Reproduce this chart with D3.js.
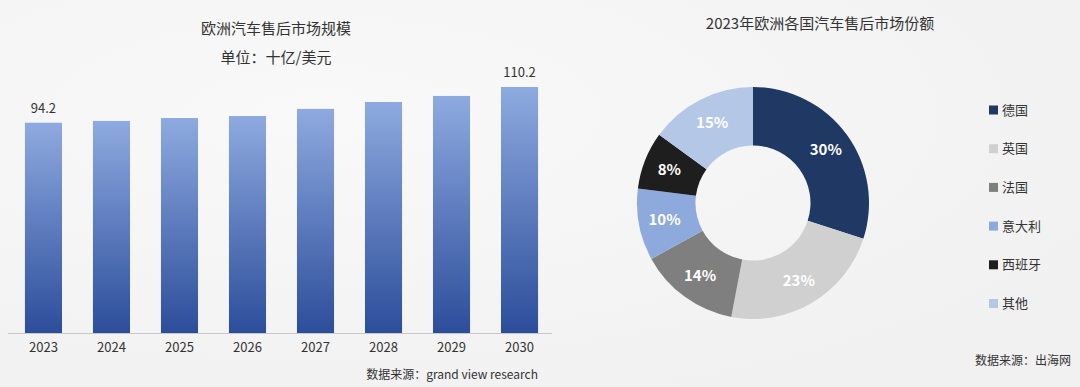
<!DOCTYPE html>
<html lang="zh">
<head>
<meta charset="UTF-8">
<title>欧洲汽车售后市场</title>
<script src="https://d3js.org/d3.v7.min.js"></script>
<style>
  body { margin: 0; background: #f3f3f3; }
  svg { display: block; font-family: "Noto Sans CJK SC", "Noto Sans", sans-serif; }
</style>
</head>
<body>
<svg width="1080" height="387"></svg>
<script>
// 柱状图数据
const years = ["2023", "2024", "2025", "2026", "2027", "2028", "2029", "2030"];
const marketSize = [94.2, 95.0, 96.3, 97.2, 100.4, 103.5, 106.2, 110.2];

// 环形图数据
const countries = ["德国", "英国", "法国", "意大利", "西班牙", "其他"];
const shares = [30, 23, 14, 10, 8, 15];
const shareColors = ["#203864", "#d0d0d0", "#7f7f7f", "#8eaadc", "#1e1e1e", "#b4c7e7"];

const svg = d3.select("svg");

// 背景
const defs = svg.append("defs");
const bg = defs.append("radialGradient").attr("id", "bgGlow")
  .attr("cx", "0.3").attr("cy", "0.3").attr("r", "0.8");
bg.append("stop").attr("offset", "0%").attr("stop-color", "#f9f9f9");
bg.append("stop").attr("offset", "100%").attr("stop-color", "#f1f1f1");
svg.append("rect").attr("width", 1080).attr("height", 387).attr("fill", "url(#bgGlow)");

// 柱子渐变
const grad = defs.append("linearGradient").attr("id", "barGrad")
  .attr("x1", 0).attr("y1", 0).attr("x2", 0).attr("y2", 1);
grad.append("stop").attr("offset", "0%").attr("stop-color", "#8eaae0");
grad.append("stop").attr("offset", "100%").attr("stop-color", "#2c4d9a");

// ---------- 左侧柱状图 ----------
const baseY = 333;
const x = d3.scaleBand().domain(years).range([9.5, 553.5]).paddingInner(0.455).paddingOuter(0.227);
const y = d3.scaleLinear().domain([0, 110.2]).range([baseY, 87]);

svg.append("text").attr("x", 276).attr("y", 34).attr("text-anchor", "middle")
  .attr("font-size", 15).attr("fill", "#333").text("欧洲汽车售后市场规模");
svg.append("text").attr("x", 276).attr("y", 63).attr("text-anchor", "middle")
  .attr("font-size", 15).attr("fill", "#333").text("单位：十亿/美元");

svg.selectAll(".bar").data(marketSize).enter().append("rect")
  .attr("class", "bar")
  .attr("x", (d, i) => x(years[i]))
  .attr("y", d => y(d))
  .attr("width", x.bandwidth())
  .attr("height", d => baseY - y(d))
  .attr("fill", "url(#barGrad)");

svg.append("line").attr("x1", 8).attr("x2", 552).attr("y1", baseY + 0.5).attr("y2", baseY + 0.5)
  .attr("stroke", "#c8c8c8").attr("stroke-width", 1);

const xAxis = svg.append("g").attr("transform", `translate(0,${baseY})`)
  .call(d3.axisBottom(x).tickSize(0).tickPadding(10));
xAxis.select(".domain").remove();
xAxis.selectAll("text").attr("font-size", 13).attr("fill", "#333")
  .attr("font-family", "\"Noto Sans CJK SC\", sans-serif");

// 只标首尾数值
[0, marketSize.length - 1].forEach(i => {
  svg.append("text")
    .attr("x", x(years[i]) + x.bandwidth() / 2)
    .attr("y", y(marketSize[i]) - 10)
    .attr("text-anchor", "middle").attr("font-size", 13).attr("fill", "#333")
    .text(marketSize[i].toFixed(1));
});

svg.append("text").attr("x", 538).attr("y", 379).attr("text-anchor", "end")
  .attr("font-size", 12).attr("fill", "#333").text("数据来源：grand view research");

// ---------- 右侧环形图 ----------
svg.append("text").attr("x", 820).attr("y", 29).attr("text-anchor", "middle")
  .attr("font-size", 15).attr("fill", "#333").text("2023年欧洲各国汽车售后市场份额");

const cx = 753, cy = 203, rOuter = 116, rInner = 57.5;
const pie = d3.pie().sort(null).value(d => d);
const arc = d3.arc().innerRadius(rInner).outerRadius(rOuter);
const labelArc = d3.arc().innerRadius(90).outerRadius(90);

const donut = svg.append("g").attr("transform", `translate(${cx},${cy})`);
const slices = pie(shares);
donut.selectAll("path").data(slices).enter().append("path")
  .attr("d", arc)
  .attr("fill", (d, i) => shareColors[i]);

donut.selectAll(".lbl").data(slices).enter().append("text")
  .attr("class", "lbl")
  .attr("transform", d => `translate(${labelArc.centroid(d)})`)
  .attr("dy", "0.35em").attr("text-anchor", "middle")
  .attr("font-size", 15).attr("font-weight", "bold").attr("fill", "#fff")
  .text(d => d.data + "%");

const legend = svg.append("g").attr("transform", "translate(989,110)");
const item = legend.selectAll("g").data(countries).enter().append("g")
  .attr("transform", (d, i) => `translate(0,${i * 38.7})`);
item.append("rect").attr("x", 0).attr("y", -4.5).attr("width", 9).attr("height", 9)
  .attr("fill", (d, i) => shareColors[i]);
item.append("text").attr("x", 13).attr("dy", "0.35em")
  .attr("font-size", 13).attr("fill", "#333").text(d => d);

svg.append("text").attr("x", 1071).attr("y", 365).attr("text-anchor", "end")
  .attr("font-size", 12).attr("fill", "#333").text("数据来源：出海网");
</script>
</body>
</html>
